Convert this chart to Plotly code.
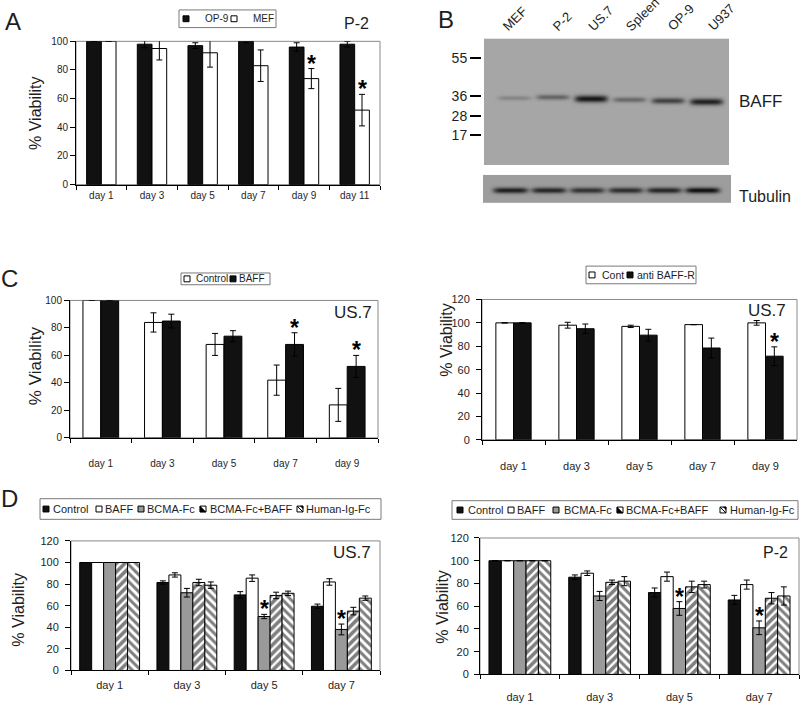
import numpy as np
import plotly.graph_objects as go

W, H = 800, 703
FONT = "Liberation Sans, Arial, Helvetica, sans-serif"
INK = "#1e1e1e"

# ------------------------------------------------------------------ data
a_days = ["day 1", "day 3", "day 5", "day 7", "day 9", "day 11"]
a_op9 = [100, 98, 97, 100, 96, 98]
a_op9_err = [0, 2.5, 2, 1, 3, 2]
a_mef = [100, 95, 92, 83, 74, 52]
a_mef_err = [0, 8, 10, 11, 7, 11]
a_sig = [(1, 4), (1, 5)]          # (series, day)

c_days = ["day 1", "day 3", "day 5", "day 7", "day 9"]
c1_control = [100, 84, 68, 42, 24]
c1_control_err = [0, 7, 8, 11, 12]
c1_baff = [100, 85, 74, 68, 52]
c1_baff_err = [0, 5, 4, 8.5, 8]
c1_sig = [(1, 3), (1, 4)]

c2_cont = [100, 98, 97, 98.5, 100]
c2_cont_err = [0, 2.5, 1, 0, 2]
c2_anti = [100, 95, 89.5, 78.5, 71.5]
c2_anti_err = [0, 4, 5, 8.5, 8]
c2_sig = [(1, 4)]

d_days = ["day 1", "day 3", "day 5", "day 7"]
d_names = ["Control", "BAFF", "BCMA-Fc", "BCMA-Fc+BAFF", "Human-Ig-Fc"]
d1_control = [100, 81.5, 70, 59.5]
d1_control_err = [0, 1.5, 3, 2]
d1_baff = [100, 88.5, 85.5, 82]
d1_baff_err = [0, 2, 3, 3]
d1_bcma = [100, 72, 50, 38]
d1_bcma_err = [0, 4, 2, 5]
d1_bcma_baff = [100, 81.5, 69.5, 55]
d1_bcma_baff_err = [0, 3, 3, 3.5]
d1_hig = [100, 79, 71.5, 67]
d1_hig_err = [0, 3, 2, 2]
d1_sig = [(2, 2), (2, 3)]

d2_control = [100, 85.5, 72, 65.5]
d2_control_err = [0, 2, 4, 4]
d2_baff = [100, 89, 86, 79]
d2_baff_err = [0, 2, 4, 4]
d2_bcma = [100, 69, 58, 41]
d2_bcma_err = [0, 4, 6, 6]
d2_bcma_baff = [100, 81, 77, 67]
d2_bcma_baff_err = [0, 2, 5, 5]
d2_hig = [100, 82, 79, 69]
d2_hig_err = [0, 4, 3, 8]
d2_sig = [(2, 2), (2, 3)]

blot_lanes = ["MEF", "P-2", "US.7", "Spleen", "OP-9", "U937"]
baff_intensity = [0.22, 0.45, 0.97, 0.42, 0.68, 0.9]
baff_band_pos = [0.467, 0.46, 0.473, 0.48, 0.488, 0.496]
tubulin_intensity = [0.85, 0.8, 0.72, 0.75, 0.8, 0.95]
mw_labels = ["55", "36", "28", "17"]
mw_pos = [0.155, 0.457, 0.612, 0.767]

# ------------------------------------------------------------------ helpers
def px(x):
    return x / W

def py(y):
    return 1 - y / H

STYLE = {
    "black": dict(color="#111111", line=dict(color="#000", width=1)),
    "white": dict(color="#ffffff", line=dict(color="#000", width=1)),
    "gray": dict(color="#9a9a9a", line=dict(color="#000", width=1)),
    "fwd": dict(color="#ffffff", line=dict(color="#000", width=1),
                pattern=dict(shape="/", fgcolor="#000", bgcolor="#fff", size=6, solidity=0.6)),
    "back": dict(color="#ffffff", line=dict(color="#000", width=1),
                 pattern=dict(shape="\\", fgcolor="#000", bgcolor="#fff", size=6, solidity=0.5)),
}

fig = go.Figure()
annotations = []
shapes = []
layout_axes = {}


def text(x, y, s, size, xanchor="center", yanchor="middle", angle=0, **kw):
    annotations.append(dict(x=px(x), y=py(y), xref="paper", yref="paper", text=s,
                            showarrow=False, xanchor=xanchor, yanchor=yanchor,
                            textangle=angle, font=dict(family=FONT, size=size, color=INK), **kw))


def bar_panel(k, xpx, ypx, ymax, cats, series, w, tick_fs, standoff, ystandoff, sig):
    xid = "x" if k == 1 else f"x{k}"
    yid = "y" if k == 1 else f"y{k}"
    n = len(series)
    for i, (vals, errs, sty) in enumerate(series):
        off = -n * w / 2 + i * w
        fig.add_trace(go.Bar(
            x=cats, y=vals, width=w, offset=off, marker=STYLE[sty],
            error_y=dict(type="data", array=errs, color="#000", thickness=1, width=3),
            xaxis=xid, yaxis=yid, hoverinfo="skip", showlegend=False))
    for (si, ci) in sig:
        vals, errs, _ = series[si]
        annotations.append(dict(
            x=ci - n * w / 2 + (si + 0.5) * w, y=vals[ci] + errs[ci], xref=xid, yref=yid,
            text="<b>*</b>", showarrow=False, yanchor="bottom", yshift=-10,
            font=dict(family=FONT, size=23, color="#000")))
    sfx = "" if k == 1 else str(k)
    layout_axes["xaxis" + sfx] = dict(
        domain=[px(xpx[0]), px(xpx[1])], anchor=yid, type="category",
        range=[-0.5, len(cats) - 0.5], showline=True, linecolor="#000", linewidth=1,
        ticks="outside", ticklen=4, tickcolor="#000", tickson="boundaries",
        tickfont=dict(family=FONT, size=tick_fs, color=INK), ticklabelstandoff=standoff,
        showgrid=False, zeroline=False, fixedrange=True)
    layout_axes["yaxis" + sfx] = dict(
        domain=[py(ypx[0]), py(ypx[1])], anchor=xid, range=[0, ymax], dtick=20,
        showline=True, linecolor="#000", linewidth=1, ticks="outside", ticklen=5,
        tickcolor="#000", tickfont=dict(family=FONT, size=tick_fs, color=INK),
        ticklabelstandoff=ystandoff,
        showgrid=False, zeroline=False, fixedrange=True)
    shapes.append(dict(type="rect", xref=f"{xid} domain", yref=f"{yid} domain",
                       x0=0, x1=1, y0=0, y1=1, line=dict(color="#8a8a8a", width=1),
                       layer="below"))


def swatch(x, yc, sty, s=6):
    x0, x1, y0, y1 = px(x), px(x + s), py(yc + s / 2), py(yc - s / 2)
    fill = {"black": "#111", "white": "#fff", "gray": "#9a9a9a"}.get(sty, "#fff")
    shapes.append(dict(type="rect", xref="paper", yref="paper", x0=x0, x1=x1, y0=y0, y1=y1,
                       fillcolor=fill, line=dict(color="#000", width=1)))
    if sty == "fwd":
        shapes.append(dict(type="path", xref="paper", yref="paper",
                           path=f"M{x0},{y0} L{x0},{y1} L{x1},{y0} Z",
                           fillcolor="#000", line=dict(color="#000", width=0.5)))
    elif sty == "back":
        xm, ym = px(x + s * 0.55), py(yc - s * 0.05)
        shapes.append(dict(type="path", xref="paper", yref="paper",
                           path=f"M{x0},{y1} L{x1},{y0}", line=dict(color="#000", width=1)))
        shapes.append(dict(type="path", xref="paper", yref="paper",
                           path=f"M{xm},{y1} L{x1},{y1} L{x1},{ym} Z",
                           fillcolor="#000", line=dict(color="#000", width=0.5)))


def legend(box, yc, items, fs):
    bx0, bx1, by0, by1 = box
    shapes.append(dict(type="rect", xref="paper", yref="paper", x0=px(bx0), x1=px(bx1),
                       y0=py(by1), y1=py(by0), fillcolor="#fff",
                       line=dict(color="#7a7a7a", width=1)))
    for sx, tx, label, sty in items:
        swatch(sx, yc, sty)
        text(tx, yc, label, fs, xanchor="left")


# ------------------------------------------------------------------ panel A
bar_panel(1, (76, 380), (182, 36), 100, a_days,
          [(a_op9, a_op9_err, "black"), (a_mef, a_mef_err, "white")], 0.29, 10, 1, 0, a_sig)
legend((179, 276, 4, 22), 13,
       [(183, 203, "OP-9", "black"), (231, 251, "MEF", "white")], 10)
text(356, 18, "P-2", 16)
text(36, 109, "% Viability", 16, angle=-90)
text(13, 16, "A", 24)

# ------------------------------------------------------------------ panel C
bar_panel(2, (70, 378), (440, 300), 100, c_days,
          [(c1_control, c1_control_err, "white"), (c1_baff, c1_baff_err, "black")],
          0.29, 10, 16, 0, c1_sig)
legend((181, 270, 272, 284), 278,
       [(184, 194, "Control", "white"), (230, 237, "BAFF", "black")], 10)
text(353, 312, "US.7", 17)
text(35, 367, "% Viability", 17, angle=-90)
text(9, 278, "C", 24)

bar_panel(3, (482, 797), (442, 299), 120, c_days,
          [(c2_cont, c2_cont_err, "white"), (c2_anti, c2_anti_err, "black")],
          0.28, 11, 16, 4, c2_sig)
legend((586, 696, 265, 283), 274,
       [(589, 600, "Cont", "white"), (627, 635, "anti BAFF-R", "black")], 10.5)
text(767, 310, "US.7", 17)
text(447, 340, "% Viability", 16, angle=-90)

# ------------------------------------------------------------------ panel D
d1 = [(d1_control, d1_control_err, "black"), (d1_baff, d1_baff_err, "white"),
      (d1_bcma, d1_bcma_err, "gray"), (d1_bcma_baff, d1_bcma_baff_err, "fwd"),
      (d1_hig, d1_hig_err, "back")]
d2 = [(d2_control, d2_control_err, "black"), (d2_baff, d2_baff_err, "white"),
      (d2_bcma, d2_bcma_err, "gray"), (d2_bcma_baff, d2_bcma_baff_err, "fwd"),
      (d2_hig, d2_hig_err, "back")]
bar_panel(4, (71, 380), (677, 545), 120, d_days, d1, 0.155, 11, 4, 4, d1_sig)
bar_panel(5, (480, 799), (681, 542), 120, d_days, d2, 0.155, 11, 12, 3, d2_sig)
styles = ["black", "white", "gray", "fwd", "back"]
legend((40, 381, 502, 523), 512.5,
       list(zip([43, 96, 138, 200, 297], [51, 103, 145, 208, 304], d_names, styles)), 11)
legend((452, 798, 504, 523), 513.5,
       list(zip([457, 508, 553, 617, 720], [466, 515, 562, 624, 728], d_names, styles)), 11)
text(352, 557, "US.7", 17)
text(775, 557, "P-2", 16)
text(19, 615, "% Viability", 16, angle=-90)
text(443, 612, "% Viability", 16, angle=-90)
text(9, 502, "D", 24)

# ------------------------------------------------------------------ panel B (blot)
lane_px0, lane_step = 514.0, 38.4
lane_label_px = [497, 547, 582, 620, 662, 702]

def lane_x(p):
    return (p - lane_px0) / lane_step

# BAFF blot
bx = np.linspace(lane_x(484), lane_x(729), 246)
by = np.linspace(0, 1, 130)
BX, BY = np.meshgrid(bx, by)
zb = np.zeros_like(BX)
for i, (inten, pos) in enumerate(zip(baff_intensity, baff_band_pos)):
    lane = np.exp(-((BX - i) / 0.43) ** 6)
    sig = 0.010 + 0.009 * inten
    zb += inten * lane * np.exp(-((BY - pos) ** 2) / (2 * sig ** 2))
zb = np.clip(zb, 0, 1)
fig.add_trace(go.Heatmap(x=bx, y=by, z=zb, zmin=0, zmax=1, zsmooth="best",
                         colorscale=[[0, "#a6a6a6"], [1, "#101010"]], showscale=False,
                         hoverinfo="skip", xaxis="x6", yaxis="y6"))
# Tubulin strip
tx_ = np.linspace(lane_x(483), lane_x(731), 249)
ty_ = np.linspace(0, 1, 30)
TX, TY = np.meshgrid(tx_, ty_)
zt = np.full_like(TX, 0.06)
for i, inten in enumerate(tubulin_intensity):
    lane = np.exp(-((TX - i + 0.1) / 0.45) ** 6)
    zt += inten * lane * np.exp(-((TY - 0.52) ** 2) / (2 * 0.07 ** 2))
zt = np.clip(zt, 0, 1)
fig.add_trace(go.Heatmap(x=tx_, y=ty_, z=zt, zmin=0, zmax=1, zsmooth="best",
                         colorscale=[[0, "#a6a6a6"], [1, "#101010"]], showscale=False,
                         hoverinfo="skip", xaxis="x7", yaxis="y7"))

layout_axes["xaxis6"] = dict(domain=[px(484), px(729)], anchor="y6", visible=False,
                             range=[bx[0], bx[-1]], fixedrange=True)
layout_axes["yaxis6"] = dict(domain=[py(162), py(33)], anchor="free", position=px(481),
                             range=[1, 0], tickvals=mw_pos, ticktext=mw_labels,
                             ticks="outside", ticklen=11, tickwidth=2, tickcolor="#000",
                             showline=False, showgrid=False, zeroline=False,
                             tickfont=dict(family=FONT, size=14, color=INK), fixedrange=True)
layout_axes["xaxis7"] = dict(domain=[px(483), px(731)], anchor="y7", visible=False,
                             range=[tx_[0], tx_[-1]], fixedrange=True)
layout_axes["yaxis7"] = dict(domain=[py(201), py(172)], anchor="x7", visible=False,
                             range=[1, 0], fixedrange=True)

for name, lp in zip(blot_lanes, lane_label_px):
    annotations.append(dict(x=lane_x(lp), y=py(31), xref="x6", yref="paper", text=name,
                            showarrow=False, xanchor="left", yanchor="bottom", textangle=-45,
                            font=dict(family=FONT, size=13, color=INK)))
text(737, 97, "BAFF", 17, xanchor="left")
text(737, 194, "Tubulin", 16, xanchor="left")
text(446, 14, "B", 24)

fig.update_layout(
    width=W, height=H, margin=dict(l=0, r=0, t=0, b=0),
    paper_bgcolor="#ffffff", plot_bgcolor="#ffffff", showlegend=False,
    barmode="overlay", annotations=annotations, shapes=shapes,
    font=dict(family=FONT, color=INK), **layout_axes)

fig.write_html("out.html", config={"displayModeBar": False, "staticPlot": True},
               post_script="document.body.style.margin='0px';"
                           "document.body.style.overflow='hidden';")
